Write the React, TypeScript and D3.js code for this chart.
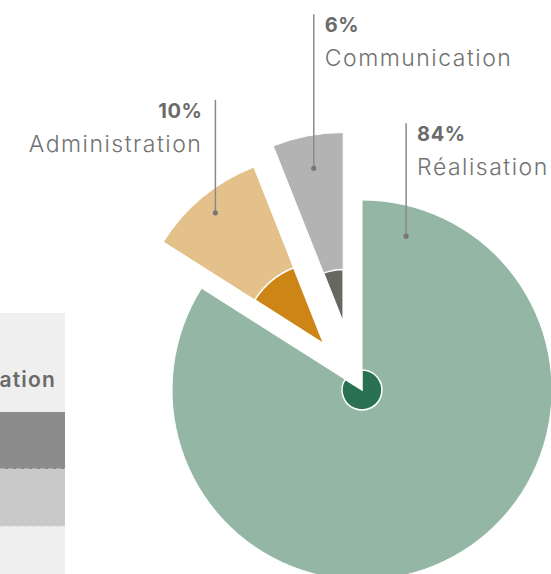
import React from "react";
import * as d3 from "d3";

// slice data
const categories = ["Réalisation", "Administration", "Communication"];
const shares = [84, 10, 6];
// inner wedge value (share of the radius, in %)
const innerShares = [10.5, 43, 28];
const outerColors = ["#93b7a4", "#e4c18b", "#b3b3b3"];
const innerColors = ["#297150", "#cd8616", "#666862"];

// clipped table on the left
const tableHeader = "Réalisation";
const tableRowColors = ["#8c8c8c", "#c9c9c9"];

const W = 551;
const H = 574;
const cx = 362;
const cy = 390;
const R = 190;

// per-slice layout: explode distance / direction nudge, label anchor and leader line
const layout = [
  { explode: 0, tilt: 0, anchorAngle: 16, anchorR: 160, lead: 113, side: "right" },
  { explode: 60, tilt: 0, anchorAngle: null, anchorR: 170, lead: 113, side: "left" },
  { explode: 70, tilt: -4.8, anchorAngle: null, anchorR: 157, lead: 154, side: "right" },
];

const FONT = "Inter, 'DejaVu Sans', sans-serif";

export default function App() {
  const rScale = d3.scaleLinear().domain([0, 100]).range([0, R]);

  const pie = d3
    .pie<number>()
    .value((d) => d)
    .sort(null)
    .startAngle(0)
    .endAngle(2 * Math.PI);
  const arcs = pie(shares);

  const outerArc = d3.arc<d3.PieArcDatum<number>>().innerRadius(0).outerRadius(rScale(100));

  const rad = (deg: number) => (deg * Math.PI) / 180;

  return (
    <svg
      width={W}
      height={H}
      style={{ position: "absolute", left: 0, top: 0, background: "#fff" }}
      fontFamily={FONT}
    >
      {/* partial table */}
      <g>
        <rect x={0} y={313} width={65} height={H - 313} fill="#efefef" />
        <text
          x={56}
          y={387}
          textAnchor="end"
          fill="#6a6a6a"
          fontSize={21}
          fontWeight={600}
          letterSpacing={1.2}
        >
          {tableHeader}
        </text>
        {tableRowColors.map((c, i) => (
          <g key={i}>
            <rect x={0} y={412 + i * 57} width={65} height={57} fill={c} />
            <line
              x1={0}
              x2={65}
              y1={412 + (i + 1) * 57}
              y2={412 + (i + 1) * 57}
              stroke="#d4d4d4"
              strokeWidth={1.2}
              strokeDasharray="5 3"
            />
          </g>
        ))}
      </g>

      {arcs.map((a, i) => {
        const L = layout[i];
        const mid = (a.startAngle + a.endAngle) / 2;
        const dir = mid + rad(L.tilt);
        const ox = cx + Math.sin(dir) * L.explode;
        const oy = cy - Math.cos(dir) * L.explode;
        const innerArc = d3
          .arc<d3.PieArcDatum<number>>()
          .innerRadius(0)
          .outerRadius(rScale(innerShares[i]));
        return (
          <g key={categories[i]} transform={`translate(${ox},${oy})`}>
            <path d={outerArc(a) || ""} fill={outerColors[i]} stroke="#fff" strokeWidth={1} />
            <path d={innerArc(a) || ""} fill={innerColors[i]} stroke="#fff" strokeWidth={1.5} />
          </g>
        );
      })}

      {arcs.map((a, i) => {
        const L = layout[i];
        const mid = (a.startAngle + a.endAngle) / 2;
        const dir = mid + rad(L.tilt);
        const ox = cx + Math.sin(dir) * L.explode;
        const oy = cy - Math.cos(dir) * L.explode;
        const ang = L.anchorAngle === null ? mid : rad(L.anchorAngle);
        const px = ox + Math.sin(ang) * L.anchorR;
        const py = oy - Math.cos(ang) * L.anchorR;
        const top = py - L.lead;
        const right = L.side === "right";
        const tx = right ? px + 11 : px - 13;
        return (
          <g key={"lab" + i}>
            <line x1={px} x2={px} y1={py} y2={top} stroke="#8a8a8a" strokeWidth={1.5} />
            <circle cx={px} cy={py} r={2.6} fill="#777" />
            <text
              x={tx}
              y={top + 18}
              textAnchor={right ? "start" : "end"}
              fill="#6b6b6b"
              fontSize={20}
              fontWeight={700}
              letterSpacing={0.6}
            >
              {shares[i]}%
            </text>
            <text
              x={tx}
              y={top + 52}
              textAnchor={right ? "start" : "end"}
              fill="#727272"
              fontSize={23}
              fontWeight={300}
              letterSpacing={1.5}
            >
              {categories[i]}
            </text>
          </g>
        );
      })}
    </svg>
  );
}
